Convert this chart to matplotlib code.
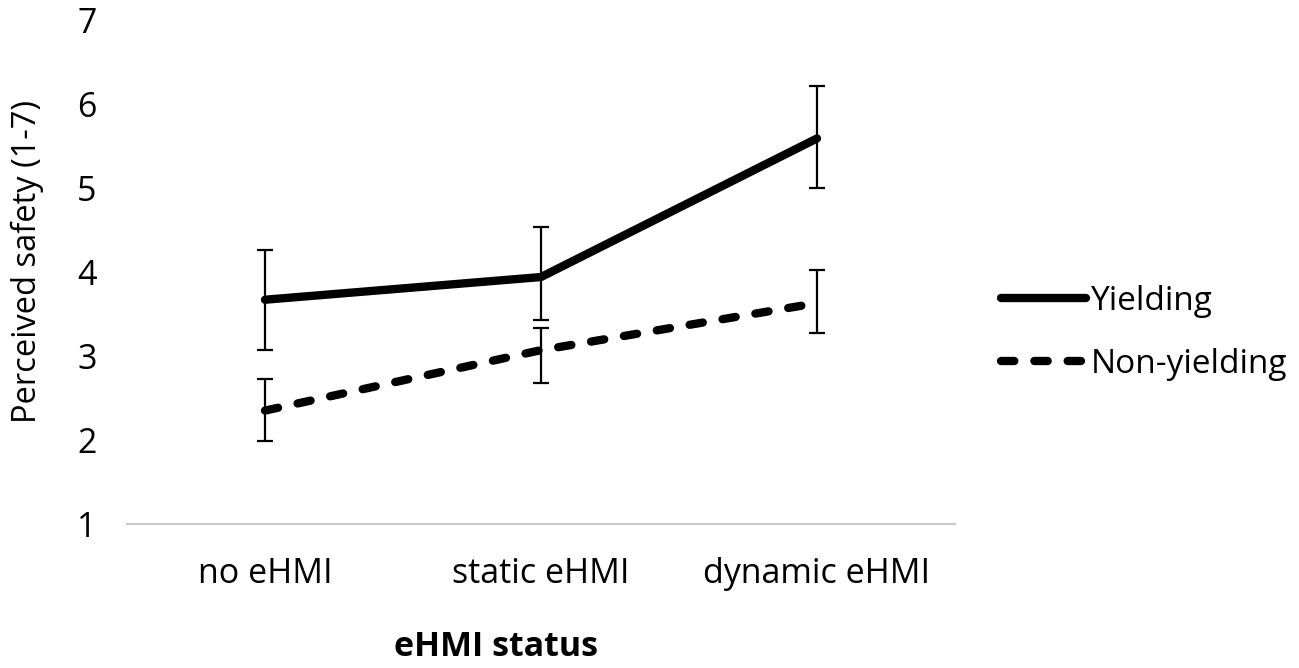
import numpy as np
import matplotlib
matplotlib.use('Agg')
import matplotlib.pyplot as plt
from matplotlib.lines import Line2D

categories = ['no eHMI', 'static eHMI', 'dynamic eHMI']

yield_mean = [3.67, 3.94, 5.59]
yield_low = [3.07, 3.43, 5.00]
yield_high = [4.26, 4.53, 6.21]

nonyield_mean = [2.35, 3.07, 3.63]
nonyield_low = [1.99, 2.68, 3.27]
nonyield_high = [2.73, 3.33, 4.02]

plt.rcParams['font.family'] = ['Open Sans', 'DejaVu Sans']

fig = plt.figure(figsize=(12.99, 6.68), dpi=100)
ax = fig.add_axes([127/1299, 144/668, 828/1299, 504/668])

x = np.arange(len(categories))

def draw(mean, low, high, ls):
    mean = np.array(mean)
    err = [mean - np.array(low), np.array(high) - mean]
    ax.errorbar(x, mean, yerr=err, fmt='none', ecolor='black', elinewidth=1.6,
                capsize=5.5, capthick=1.6, zorder=2)
    line, = ax.plot(x, mean, color='black', lw=6, zorder=3,
                    solid_capstyle='round', dash_capstyle='round')
    if ls == 'dash':
        line.set_dashes((1.6, 2.4))
    return line

draw(yield_mean, yield_low, yield_high, 'solid')
draw(nonyield_mean, nonyield_low, nonyield_high, 'dash')

ax.set_xlim(-0.5, 2.5)
ax.set_ylim(1, 7)
ax.set_yticks(range(1, 8))
ax.set_xticks(x)
ax.set_xticklabels(categories)
ax.tick_params(axis='both', length=0, labelsize=24.5, colors='black')
ax.tick_params(axis='y', pad=22)
ax.tick_params(axis='x', pad=24)

for s in ['top', 'right', 'left']:
    ax.spines[s].set_visible(False)
ax.spines['bottom'].set_color('#c8c8c8')
ax.spines['bottom'].set_linewidth(1.5)

ax.set_ylabel('Perceived safety (1-7)', fontsize=23.5)
ax.yaxis.set_label_coords(-0.1, 0.52)
ax.set_xlabel('eHMI status', fontsize=24.5, fontweight='bold')
ax.xaxis.set_label_coords(0.446, -0.21)

h1 = Line2D([0], [0], color='black', lw=6, solid_capstyle='round')
h2 = Line2D([0], [0], color='black', lw=6, dash_capstyle='round', dashes=(1.6, 2.4))
fig.legend([h1, h2], ['Yielding', 'Non-yielding'], loc='center left',
           bbox_to_anchor=(1001/1299, 1 - 333/668), frameon=False, fontsize=24,
           handlelength=2.55, handletextpad=0.15, labelspacing=0.9, borderpad=0,
           borderaxespad=0)

fig.savefig('out.png', dpi=100)
